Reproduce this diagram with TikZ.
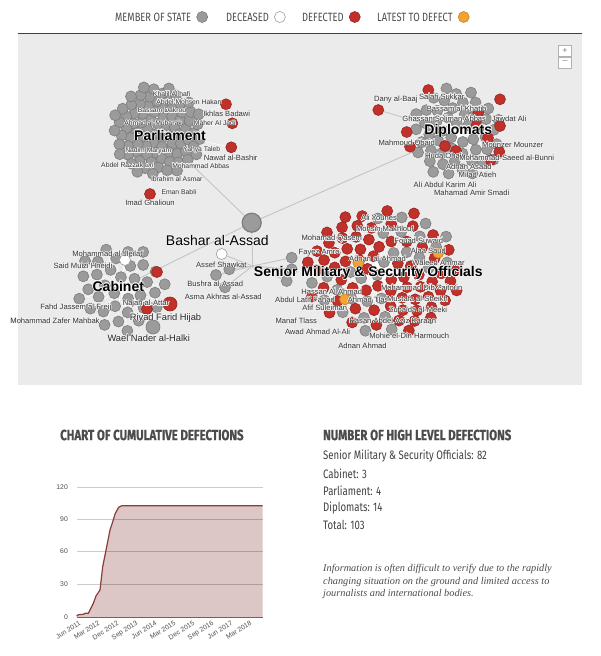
\documentclass[tikz,border=0pt]{standalone}
\usepackage{fontspec}
\usepackage[copies]{contour}
\contourlength{0.5pt}
\setmainfont{Liberation Sans}
\newfontfamily\condfont[FakeStretch=0.78,BoldFeatures={FakeBold=0.8}]{Fira Sans}
\newfontfamily\notefont{Liberation Serif}
\usetikzlibrary{positioning}
\definecolor{memgray}{HTML}{9B9B9B}
\definecolor{memedge}{HTML}{7C7C7C}
\definecolor{defred}{HTML}{C2302A}
\definecolor{rededge}{HTML}{982420}
\definecolor{lateorange}{HTML}{F1A334}
\definecolor{lateedge}{HTML}{C98322}
\definecolor{panel}{HTML}{EBEBEB}
\definecolor{edgegray}{HTML}{C4C4C4}
\definecolor{headgray}{HTML}{4C4C4C}
\definecolor{halo}{HTML}{F4F4F4}
\definecolor{chartfill}{HTML}{DCC6C6}
\definecolor{chartline}{HTML}{8E3B3B}
\pgfdeclarelayer{panelbg}
\pgfdeclarelayer{edges}
\pgfsetlayers{panelbg,edges,main}
\newcommand{\haloed}[1]{\contour{halo}{#1}}
\tikzset{
  dot/.style={circle,inner sep=0,minimum size=11pt,line width=0.6pt},
  member/.style={dot,fill=memgray,draw=memedge},
  deceased/.style={dot,fill=white,draw=memgray},
  defected/.style={dot,fill=defred,draw=rededge},
  latestdot/.style={dot,fill=lateorange,draw=lateedge},
  link/.style={draw=edgegray,line width=0.9pt},
  spoke/.style={draw=white,line width=0.5pt},
  nm/.style={font=\fontsize{6.8}{7}\selectfont,text=black!80,inner sep=0},
  nmd/.style={font=\fontsize{7.6}{8}\selectfont,text=black!80,inner sep=0},
  nmbig/.style={font=\fontsize{9.3}{10}\selectfont,text=black!85,inner sep=0},
  grp/.style={font=\fontsize{14}{16}\selectfont\bfseries,inner sep=0},
  legtxt/.style={font=\condfont\fontsize{12}{14}\selectfont,text=black!70,inner sep=0,anchor=west},
  heading/.style={font=\condfont\bfseries\fontsize{14.7}{17}\selectfont,text=headgray,inner sep=0,anchor=west},
  countline/.style={font=\condfont\fontsize{12.3}{14}\selectfont,text=black!75,inner sep=0,anchor=west},
  ticklab/.style={font=\fontsize{6.8}{8}\selectfont,text=black!70,inner sep=1pt},
  gridline/.style={draw=black,opacity=0.2,line width=0.6pt}
}
\begin{document}
\begin{tikzpicture}[x=1pt,y=-1pt]
  \useasboundingbox (0,0) rectangle (600,656);

  % legend
  \node[legtxt] (lgmem) at (115,17) {MEMBER OF STATE};
  \node[member,right=5pt of lgmem] (lgmemdot) {};
  \node[legtxt] (lgdec) at (226,17) {DECEASED};
  \node[deceased,right=5pt of lgdec] (lgdecdot) {};
  \node[legtxt] (lgdef) at (302,17) {DEFECTED};
  \node[defected,right=5pt of lgdef] (lgdefdot) {};
  \node[legtxt] (lglat) at (377,17) {LATEST TO DEFECT};
  \node[latestdot,right=5pt of lglat] (lglatdot) {};

  \begin{pgfonlayer}{panelbg}
    \fill[panel] (18,33) rectangle (582,385);
    \draw[black!75,line width=0.8pt] (18,33) -- (582,33);
  \end{pgfonlayer}
  \node[draw=black!30,fill=white,minimum width=13pt,minimum height=11pt,inner sep=0,font=\fontsize{9}{9}\selectfont,text=black!50] (zin) at (565,51) {+};
  \node[draw=black!30,fill=white,minimum width=13pt,minimum height=11pt,inner sep=0,font=\fontsize{9}{9}\selectfont,text=black!50,below=0pt of zin] (zout) {\textendash};

  \coordinate (parl) at (157,131);
  \coordinate (dipl) at (456,133);
  \coordinate (cab) at (120,288);
  \coordinate (mil) at (383,271);

  % parliament
  \foreach \i in {1,...,84}{
    \pgfmathsetmacro\rad{5*sqrt(\i)}
    \pgfmathsetmacro\ang{\i*137.508}
    \node[member] (pn\i) at ([shift={(\ang:\rad)}]parl) {};
  }
  \foreach \x/\y [count=\k] in {226/104.3,232.3/123.3,231.3/147.3,150/194}{
    \node[defected] (pr\k) at (\x,\y) {};
    \begin{pgfonlayer}{edges}\draw[spoke] (parl) -- (pr\k);\end{pgfonlayer}
  }

  % diplomats
  \foreach \i in {1,...,50}{
    \pgfmathsetmacro\rad{6.5*sqrt(\i)}
    \pgfmathsetmacro\ang{\i*137.508}
    \node[member] (dn\i) at ([shift={(\ang:\rad)}]dipl) {};
    \begin{pgfonlayer}{edges}\draw[spoke] (dipl) -- (dn\i);\end{pgfonlayer}
  }
  \foreach \x/\y [count=\k] in {428.3/90,500/99.3,478.3/112.7,378.3/110,406.7/132,410/146.7,500/126,476.7/125,445/146,456/151,499.3/151.7,490.7/160,488/138}{
    \node[defected] (dr\k) at (\x,\y) {};
    \begin{pgfonlayer}{edges}\draw[spoke] (dipl) -- (dr\k);\end{pgfonlayer}
  }
  \begin{pgfonlayer}{edges}\draw[link] (dr4) -- (dipl);\end{pgfonlayer}

  % cabinet
  \foreach \i in {1,...,34}{
    \pgfmathsetmacro\rad{7.7*sqrt(\i)}
    \pgfmathsetmacro\ang{\i*137.508}
    \node[member] (cn\i) at ([shift={(\ang:\rad)}]cab) {};
    \begin{pgfonlayer}{edges}\draw[spoke] (cab) -- (cn\i);\end{pgfonlayer}
  }
  \node[deceased] (jleilati) at (125,260) {};
  \node[defected] (cr1) at (157,272) {};
  \node[defected] (attar) at (147,309) {};
  \node[defected,minimum size=14pt] (hijab) at (170,304) {};
  \node[member,minimum size=14pt] (halki) at (153,327) {};
  \begin{pgfonlayer}{edges}
    \foreach \n in {jleilati,cr1,attar,hijab,halki} \draw[spoke] (cab) -- (\n);
  \end{pgfonlayer}

  % senior military & security officials
  \foreach \i in {1,...,100}{
    \pgfmathsetmacro\rad{6.3*sqrt(\i)}
    \pgfmathsetmacro\ang{\i*137.508}
    \pgfmathsetmacro\px{1.25*\rad*cos(\ang)}
    \pgfmathsetmacro\py{\rad*sin(\ang)}
    \pgfmathtruncatemacro\g{mod(\i*53,17)}
    \ifnum\g<5 \def\fc{memgray}\def\dc{memedge}\else\def\fc{defred}\def\dc{rededge}\fi
    \node[dot,fill=\fc,draw=\dc] (mn\i) at ([shift={(\px,\py)}]mil) {};
    \begin{pgfonlayer}{edges}\draw[spoke] (mil) -- (mn\i);\end{pgfonlayer}
  }
  \node[latestdot] (ml1) at (358.3,262.7) {};
  \node[latestdot] (ml2) at (345,299.3) {};
  \node[latestdot] (ml3) at (438.3,252.7) {};

  % the family
  \node[member,minimum size=19pt,line width=1.2pt] (bashar) at (251.7,222.7) {};
  \node[circle,fill=black!25,inner sep=0,minimum size=3.5pt] (hub) at (252.7,266) {};
  \node[deceased] (assef) at (221.7,254) {};
  \node[member] (bushra) at (216,275) {};
  \node[member] (fam2) at (229.3,269.3) {};
  \node[member] (asma) at (225,287.3) {};
  \node[member] (fam4) at (291.7,257.7) {};
  \node[member] (fam5) at (291.7,269.3) {};
  \node[member] (fam6) at (286.7,281) {};
  \begin{pgfonlayer}{edges}
    \draw[link] (bashar) -- (parl);
    \draw[link] (bashar) -- (dipl);
    \draw[link] (bashar) -- (cab);
    \draw[link] (bashar) -- (hub);
    \foreach \n in {assef,bushra,fam2,asma,fam4,fam5,fam6} \draw[link] (hub) -- (\n);
  \end{pgfonlayer}

  % labels
  \foreach \x/\y/\t [count=\k] in {171.7/94/Khalil Al hafi,188.8/102/Abdel Mohsen Hakan,162/110.7/Bassam Dakrou,153/123.3/Ahmad al-Mubarak,214.7/123.3/Maher Al Jadi,148.3/151.3/Nadim Maryam,201.7/150/Yahya Taleb,127.5/165.7/Abdel Razzak Dri,200.8/166/Mohammad Abbas,176.7/179.3/Ibrahim al Asmar,178.9/192/Eman Babli}
    \node[nm] (pl\k) at (\x,\y) {\haloed{\t}};
  \foreach \x/\y/\t [count=\k] in {226.7/114/Ikhlas Badawi,230.7/157.7/Nawaf al-Bashir,150/203.3/Imad Ghalioun}
    \node[nmd] (pd\k) at (\x,\y) {\haloed{\t}};
  \foreach \x/\y/\t [count=\k] in {395.8/100/Dany al-Baaj,441.7/96.7/Salah Sukkar,456.7/108.7/Bassam al-Khatib,444.2/118.7/Ghassan Soliman Abbas,509/118.7/Jawdat Ali,406.7/142.7/Mahmoud Obaid,512.8/145/Mounzer Mounzer,444.2/156/Huda Ohali,506.7/158.3/Mohammad-Saeed al-Bunni,468.9/167.3/Adnan Asaad,477.5/175/Milad Atieh,445/185/Ali Abdul Karim Ali,471.7/193.3/Mahamad Amir Smadi}
    \node[nmd] (dl\k) at (\x,\y) {\haloed{\t}};
  \foreach \x/\y/\t [count=\k] in {108.3/254/Mohammad al-Jleilati,83/266/Said Muizi Hneidi,75.8/307.3/Fahd Jassem al-Freij,146/304/Najah al-Attar,55/320.7/Mohammad Zafer Mahbak}
    \node[nmd] (cl\k) at (\x,\y) {\haloed{\t}};
  \node[nmbig] (hijablab) at (165.5,318.3) {\haloed{Riyad Farid Hijab}};
  \node[nmbig] (halkilab) at (148.7,338.3) {\haloed{Wael Nader al-Halki}};
  \foreach \x/\y/\t [count=\k] in {221.3/265/Assef Shawkat,215.3/284/Bushra al-Assad,223.3/296.7/Asma Akhras al-Assad}
    \node[nmd] (fl\k) at (\x,\y) {\haloed{\t}};
  \foreach \x/\y/\t [count=\k] in {379/218.3/Ali Younes,384.8/229.3/Mohsin Makhlouf,331.7/239/Mohamad Qasem,418.7/240.7/Fouad Suwaid,319.2/252.7/Fayez Amro,428.3/251/Alaa Saud,377.5/259/Adnan al-Ahmad,438.5/263.3/Waleed Ammar,421.7/287.7/Mohammad Dib Zaitoun,331.7/291.7/Hassan Al Ahmad,305/300/Abdul Latif Fahad,370/300/Ahmad Tlass,417.5/299.3/Mustafa al-Sheikh,324.7/308.3/Afif Suleiman,418/310/Zubaida al-Meeki,296.3/320.7/Manaf Tlass,392.8/321/Hasan Abdel Aziz Karaan,317.5/331.7/Awad Ahmad Al-Ali,409.2/336/Mohie el-Din Harmouch,362.5/345.7/Adnan Ahmad}
    \node[nmd] (ml\k) at (\x,\y) {\haloed{\t}};
  \node[font=\fontsize{14}{16}\selectfont,inner sep=0] (basharlab) at (217.3,240.7) {\haloed{Bashar al-Assad}};
  \node[grp] (parllab) at (170,135.7) {\haloed{Parliament}};
  \node[grp] (dipllab) at (458.3,130.7) {\haloed{Diplomats}};
  \node[grp] (cablab) at (118.3,286.7) {\haloed{Cabinet}};
  \node[grp] (millab) at (368.3,273.3) {\haloed{Senior Military \& Security Officials}};

  % chart
  \node[heading] (charthead) at (60,435) {CHART OF CUMULATIVE DEFECTIONS};
  \fill[chartfill] (76.7,617) -- (76.7,616) -- (78.3,614.7) -- (83.3,614.3) -- (85,613.3) -- (88.3,613.3) -- (90,610) -- (93.3,603.3) -- (96,596) -- (100,590) -- (102.7,566.7) -- (106.7,546.7) -- (110,530) -- (112,524) -- (115.3,513.3) -- (118.7,507.3) -- (121.7,505.7) -- (262.7,505.7) -- (262.7,617) -- cycle;
  \foreach \v/\y in {30/584,60/551,90/519,120/487}{
    \node[ticklab,anchor=east] (yl\v) at (69,\y) {\v};
    \draw[gridline] (77,\y) -- (263,\y);
  }
  \node[ticklab,anchor=east] (yl0) at (69,617) {0};
  \draw[chartline,line width=1.2pt,line join=round] plot coordinates {(76.7,616) (78.3,614.7) (83.3,614.3) (85,613.3) (88.3,613.3) (90,610) (93.3,603.3) (96,596) (100,590) (102.7,566.7) (106.7,546.7) (110,530) (112,524) (115.3,513.3) (118.7,507.3) (121.7,505.7) (262.7,505.7)};
  \draw[black!60,line width=0.9pt] (76.7,617) -- (263,617);
  \foreach \t [count=\k] in {Jun 2011,Mar 2012,Dec 2012,Sep 2013,Jun 2014,Mar 2015,Dec 2015,Sep 2016,Jun 2017,Mar 2018}{
    \pgfmathsetmacro\xx{60+19*\k}
    \node[ticklab,rotate=32,anchor=north east] (xl\k) at (\xx,619) {\t};
  }

  % counts
  \node[heading] (counthead) at (323,435) {NUMBER OF HIGH LEVEL DEFECTIONS};
  \node[countline] (c1) at (323,456) {Senior Military \& Security Officials: 82};
  \node[countline] (c2) at (323,473.3) {Cabinet: 3};
  \node[countline] (c3) at (323,490.6) {Parliament: 4};
  \node[countline] (c4) at (323,508) {Diplomats: 14};
  \node[countline] (c5) at (323,525.3) {Total: 103};
  \node[anchor=north west,inner sep=0,align=left,font=\notefont\itshape\fontsize{10.3}{12.3}\selectfont,text=black!70] (note) at (323,564.5)
    {Information is often difficult to verify due to the rapidly\\changing situation on the ground and limited access to\\journalists and international bodies.};
\end{tikzpicture}
\end{document}
